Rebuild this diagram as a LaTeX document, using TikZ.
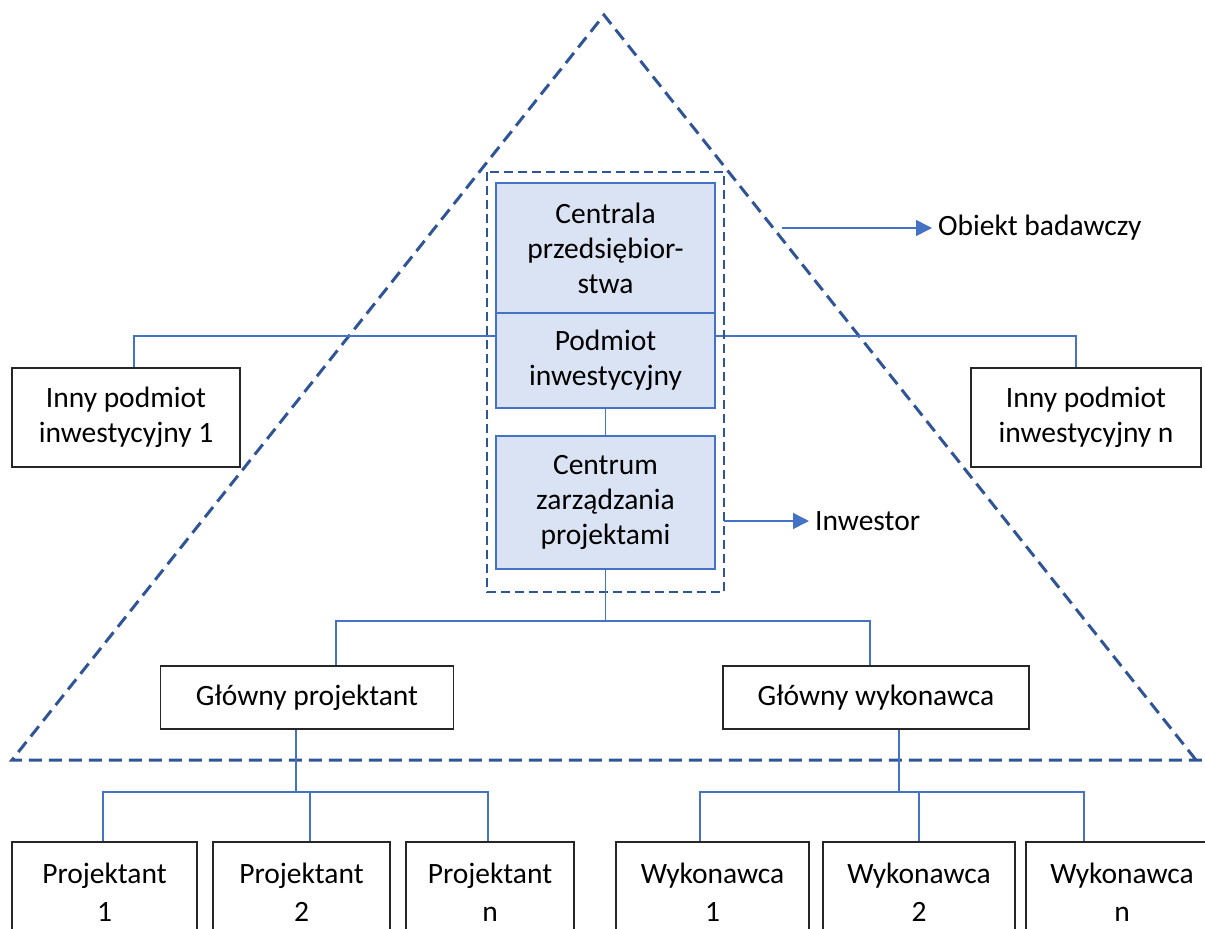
\documentclass[tikz,border=0pt]{standalone}
\usepackage{fontspec}
\setmainfont{Carlito}
\usetikzlibrary{arrows.meta,calc}

\definecolor{linkblue}{HTML}{4472C4}
\definecolor{darkdash}{HTML}{2F5597}
\definecolor{boxfill}{HTML}{DAE3F3}

\tikzset{
  plainbox/.style={draw=black!85, line width=1.4pt, fill=white, inner sep=0pt,
    align=center, font=\fontsize{29.5}{35}\selectfont},
  corebox/.style={draw=linkblue, line width=2.6pt, fill=boxfill, inner sep=0pt,
    align=center, font=\fontsize{29.5}{35}\selectfont},
  lowbox/.style={plainbox, font=\fontsize{29.5}{38}\selectfont},
  conn/.style={draw=linkblue, line width=1.4pt},
  pointer/.style={draw=linkblue, line width=1.6pt, shorten >=6pt,
    -{Triangle[length=16pt,width=16pt]}},
  scope line/.style={draw=darkdash, line width=3pt, dash pattern=on 13pt off 7pt},
  core frame/.style={draw=darkdash, line width=2.4pt, dash pattern=on 9pt off 5pt},
  label text/.style={inner sep=0pt, anchor=west, font=\fontsize{29.5}{35}\selectfont}
}

\begin{document}
\begin{tikzpicture}[x=1pt,y=-1pt]
  \useasboundingbox (0,0) rectangle (1205,929);

  % outline of the research object
  \coordinate (apex) at (604,15);
  \coordinate (baseL) at (12,760);
  \coordinate (baseR) at (1196,760);
  \coordinate (baseEnd) at (1205,760);
  \draw[scope line] (baseR) -- (apex) -- (baseL) -- (baseEnd);

  % other investment entities
  \node[plainbox, minimum width=228, minimum height=99] (l1) at (126,417.5)
    {Inny podmiot\\inwestycyjny 1};
  \node[plainbox, minimum width=230, minimum height=99] (rn) at (1086,417.5)
    {Inny podmiot\\inwestycyjny n};

  % bus joining the investment entities, running behind the central units
  \coordinate (busL) at (134,336);
  \coordinate (busR) at (1076,336);
  \draw[conn] (busL |- l1.north) -- (busL) -- (busR) -- (busR |- rn.north);

  % central units
  \node[corebox, minimum width=219, minimum height=130] (c1) at (605.5,248)
    {Centrala\\przedsiębior-\\stwa};
  \node[corebox, minimum width=219, minimum height=95] (c2) at (605.5,360.5)
    {Podmiot\\inwestycyjny};
  \node[corebox, minimum width=219, minimum height=133] (c3) at (605.5,502.5)
    {Centrum\\zarządzania\\projektami};

  % dashed frame around the investor
  \coordinate (frameNW) at (487,172);
  \coordinate (frameSE) at (724,592);
  \draw[core frame] (frameNW) rectangle (frameSE);

  \draw[conn] (c2.south) -- (c3.north);

  % main designer and main contractor
  \node[plainbox, minimum width=293, minimum height=63] (gp) at (307,697.5)
    {Główny projektant};
  \node[plainbox, minimum width=306, minimum height=63] (gw) at (876,697.5)
    {Główny wykonawca};

  \coordinate (bus1) at (605.5,621);
  \coordinate (jgp) at (336,621);
  \coordinate (jgw) at (870,621);
  \draw[conn] (c3.south) -- (bus1);
  \draw[conn] (jgp |- gp.north) -- (jgp) -- (jgw) -- (jgw |- gw.north);

  % designers
  \node[lowbox, minimum width=185, minimum height=100] (p1) at (104.5,892)
    {Projektant\\1};
  \node[lowbox, minimum width=177, minimum height=100] (p2) at (301.5,892)
    {Projektant\\2};
  \node[lowbox, minimum width=168, minimum height=100] (pn) at (490,892)
    {Projektant\\n};

  \coordinate (bus2) at (296,792);
  \coordinate (jp1) at (103,792);
  \coordinate (jp2) at (310,792);
  \coordinate (jpn) at (488,792);
  \draw[conn] (bus2 |- gp.south) -- (bus2);
  \draw[conn] (jp1 |- p1.north) -- (jp1) -- (jpn) -- (jpn |- pn.north);
  \draw[conn] (jp2) -- (jp2 |- p2.north);

  % contractors
  \node[lowbox, minimum width=193, minimum height=100] (w1) at (712.5,892)
    {Wykonawca\\1};
  \node[lowbox, minimum width=192, minimum height=100] (w2) at (919,892)
    {Wykonawca\\2};
  \node[lowbox, minimum width=192, minimum height=100] (wn) at (1122,892)
    {Wykonawca\\n};

  \coordinate (bus3) at (899,792);
  \coordinate (jw1) at (700,792);
  \coordinate (jw2) at (919,792);
  \coordinate (jwn) at (1084,792);
  \draw[conn] (bus3 |- gw.south) -- (bus3);
  \draw[conn] (jw1 |- w1.north) -- (jw1) -- (jwn) -- (jwn |- wn.north);
  \draw[conn] (jw2) -- (jw2 |- w2.north);

  % labels with pointers
  \node[label text] (ob) at (938,228) {Obiekt badawczy};
  \coordinate (obStart) at (782,228);
  \draw[pointer] (obStart) -- (ob.west);

  \node[label text] (inw) at (815,521) {Inwestor};
  \draw[pointer] (frameSE |- inw.west) -- (inw.west);
\end{tikzpicture}
\end{document}
